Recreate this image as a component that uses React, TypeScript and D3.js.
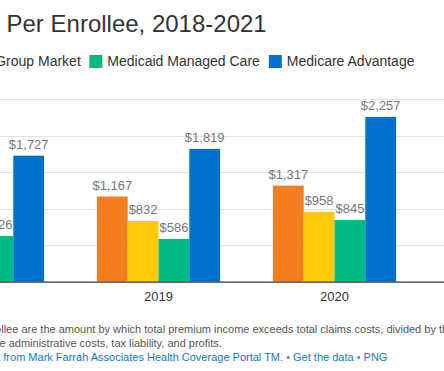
import { useEffect, useRef } from 'react';
import * as d3 from 'd3';

// values; 2018 orange/yellow and all of 2021 sit outside the visible crop (estimates)
const years = ['2018', '2019', '2020', '2021'];
const seriesNames = ['Individual Market', 'Fully-Insured Group Market', 'Medicaid Managed Care', 'Medicare Advantage'];
const seriesColors = ['#F47D20', '#FFC908', '#00BA83', '#0071CC'];
const individual = [1040, 1167, 1317, 1100];
const groupMarket = [760, 832, 958, 860];
const medicaid = [626, 586, 845, 700];
const medicare = [1727, 1819, 2257, 1900];
const seriesValues = [individual, groupMarket, medicaid, medicare];
const yTicks = [0, 500, 1000, 1500, 2000, 2500];

const titleText = 'Gross Margins Per Enrollee, 2018-2021';
const noteLine1 = 'Note: Gross margins per enrollee are the amount by which total premium income exceeds total claims costs, divided by the';
const noteLine2 = 'average enrollment. Gross margins include administrative costs, tax liability, and profits.';
const sourceParts = [
  { t: 'Source: KFF analysis of data from Mark Farrah Associates Health Coverage Portal TM.', c: '#1B75C4' },
  { t: ' • ', c: '#777' },
  { t: 'Get the data', c: '#1B75C4' },
  { t: ' • ', c: '#777' },
  { t: 'PNG', c: '#1B75C4' },
];

const W = 444;
const H = 371;
const FONT = '"Liberation Sans", Arial, sans-serif';

export default function App() {
  const svgRef = useRef<SVGSVGElement>(null);

  useEffect(() => {
    if (!svgRef.current) return;
    const svg = d3.select(svgRef.current);
    svg.selectAll('*').remove();

    const x = d3.scaleBand<string>().domain(years).range([-105.5, 598.5]).paddingInner(0.3).paddingOuter(0.15);
    const xSub = d3.scaleBand<string>().domain(seriesNames).range([0, x.bandwidth()]);
    const y = d3.scaleLinear().domain([0, 2500]).range([281.7, 99.3]);

    // grid lines
    svg.append('g')
      .selectAll('line')
      .data(yTicks.filter((d) => d > 0))
      .enter()
      .append('line')
      .attr('x1', 0)
      .attr('x2', W)
      .attr('y1', (d) => Math.round(y(d)) + 0.5)
      .attr('y2', (d) => Math.round(y(d)) + 0.5)
      .attr('stroke', '#e3e3e3')
      .attr('stroke-width', 1);

    // bars + value labels
    seriesNames.forEach((name, si) => {
      const rows = years.map((yr, i) => ({ yr, v: seriesValues[si][i] }));
      const cx = (d: { yr: string }) => (x(d.yr) as number) + (xSub(name) as number) + xSub.bandwidth() / 2;
      const g = svg.append('g');
      g.selectAll('rect')
        .data(rows)
        .enter()
        .append('rect')
        .attr('x', (d) => cx(d) - xSub.bandwidth() / 2)
        .attr('y', (d) => y(d.v))
        .attr('width', xSub.bandwidth())
        .attr('height', (d) => y(0) - y(d.v))
        .attr('fill', seriesColors[si]);

      g.selectAll('text')
        .data(rows)
        .enter()
        .append('text')
        .attr('x', cx)
        .attr('y', (d) => y(d.v) - 7)
        .attr('text-anchor', 'middle')
        .attr('font-family', FONT)
        .attr('font-size', 13)
        .attr('fill', '#777')
        .text((d) => '$' + d3.format(',')(d.v));
      // drop labels that fall completely outside the crop
      g.selectAll<SVGTextElement, unknown>('text').each(function () {
        const w = this.getComputedTextLength();
        const c = +(this.getAttribute('x') || 0);
        if (c + w / 2 < 0 || c - w / 2 > W) this.remove();
      });
    });

    // baseline axis
    const axis = svg.append('g')
      .attr('transform', `translate(0, ${y(0)})`)
      .call(d3.axisBottom(x).tickSize(0).tickPadding(7));
    axis.select('.domain').remove();
    axis.selectAll<SVGGElement, string>('.tick')
      .filter((d) => (x(d) as number) + x.bandwidth() / 2 < 0 || (x(d) as number) + x.bandwidth() / 2 > W)
      .remove();
    axis.selectAll('text')
      .attr('font-family', FONT)
      .attr('font-size', 13)
      .attr('fill', '#333')
      .attr('dy', '0.95em');
    svg.append('line')
      .attr('x1', 0)
      .attr('x2', W)
      .attr('y1', y(0) + 0.5)
      .attr('y2', y(0) + 0.5)
      .attr('stroke', '#333')
      .attr('stroke-width', 1.3);

    // title, right edge of "2021" at ~267
    svg.append('text')
      .attr('x', 266.7)
      .attr('y', 32)
      .attr('text-anchor', 'end')
      .attr('font-family', FONT)
      .attr('font-size', 24)
      .attr('fill', '#333')
      .text(titleText);

    // legend, anchored on the Medicaid swatch
    const legend = svg.append('g');
    const items = seriesNames.map((name, i) => {
      const t = legend.append('text')
        .attr('y', 66)
        .attr('font-family', FONT)
        .attr('font-size', 14)
        .attr('fill', '#333')
        .text(name);
      const r = legend.append('rect')
        .attr('y', 55)
        .attr('width', 13)
        .attr('height', 13)
        .attr('fill', seriesColors[i]);
      return { t, r, w: (t.node() as SVGTextElement).getComputedTextLength() };
    });
    const pos: number[] = [];
    pos[2] = 89.3;
    for (let i = 3; i < items.length; i++) pos[i] = pos[i - 1] + 18 + items[i - 1].w + 9;
    for (let i = 1; i >= 0; i--) pos[i] = pos[i + 1] - 8.5 - items[i].w - 18;
    items.forEach((it, i) => {
      it.r.attr('x', pos[i]);
      it.t.attr('x', pos[i] + 18);
    });

    // footnotes, placed so the visible parts line up
    const placeAt = (text: string, key: string, targetX: number, baseY: number, color: string) => {
      const el = svg.append('text')
        .attr('y', baseY)
        .attr('font-family', FONT)
        .attr('font-size', 11)
        .attr('fill', color)
        .text(text);
      const node = el.node() as SVGTextElement;
      const idx = text.indexOf(key);
      const off = idx > 0 ? node.getSubStringLength(0, idx) : 0;
      el.attr('x', targetX - off);
      return el;
    };
    placeAt(noteLine1, 'llee are', 1.2, 333, '#555');
    placeAt(noteLine2, 'e administrative', -0.5, 347, '#555');

    const src = svg.append('text')
      .attr('y', 361)
      .attr('font-family', FONT)
      .attr('font-size', 11);
    sourceParts.forEach((p) => src.append('tspan').attr('fill', p.c).text(p.t));
    const srcNode = src.node() as SVGTextElement;
    const full = sourceParts.map((p) => p.t).join('');
    const off = srcNode.getSubStringLength(0, full.indexOf('from Mark'));
    src.attr('x', 3.3 - off);
  }, []);

  return (
    <div style={{ position: 'absolute', left: 0, top: 0, width: W, height: H, overflow: 'hidden', background: '#fff' }}>
      <svg ref={svgRef} width={W} height={H} style={{ display: 'block' }} />
    </div>
  );
}
